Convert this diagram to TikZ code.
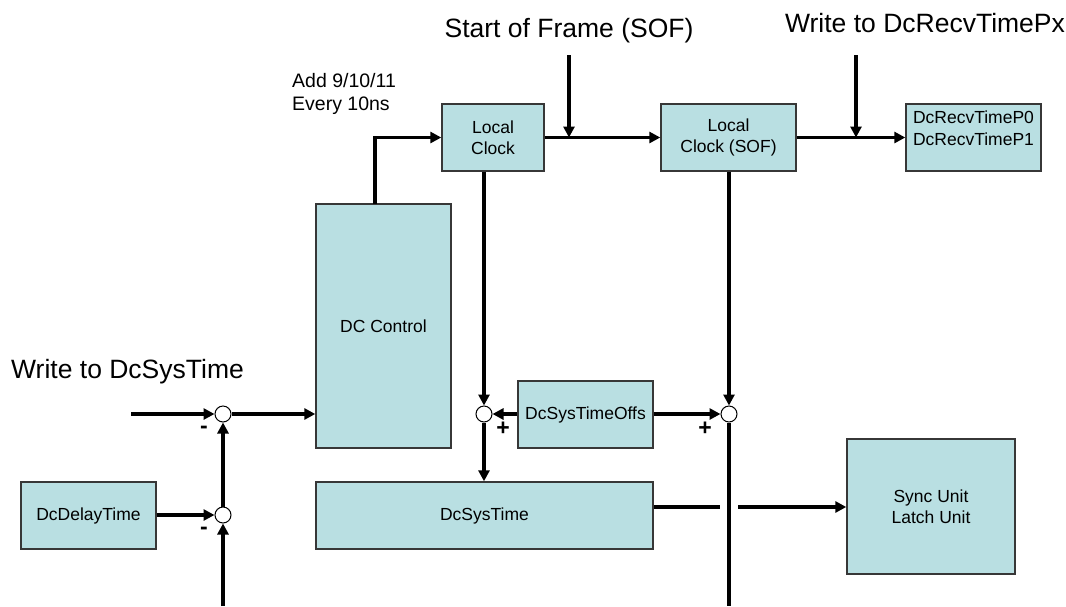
\documentclass[tikz,border=0pt]{standalone}
\usepackage{fontspec}
\setmainfont{Liberation Sans}
\usetikzlibrary{arrows.meta,calc}
\definecolor{boxfill}{RGB}{185,223,226}
\definecolor{boxline}{RGB}{55,55,55}
\tikzset{
  blk/.style={draw=boxline, fill=boxfill, line width=1.4pt, inner sep=0pt, align=center,
              font=\fontsize{17.5}{21}\selectfont},
  sumpt/.style={circle, draw=black, fill=white, line width=1pt, minimum size=16pt, inner sep=0pt},
  flow/.style={line width=3.3pt, -{Triangle[length=11pt,width=11pt]}},
  wire/.style={line width=3.3pt},
  biglbl/.style={font=\fontsize{26.5}{30}\selectfont, inner sep=0pt},
  smalllbl/.style={font=\fontsize{19.5}{23}\selectfont, inner sep=0pt, align=left},
  sign/.style={font=\bfseries\fontsize{23}{23}\selectfont, inner sep=0pt}
}
\begin{document}
\begin{tikzpicture}[x=1pt,y=-1pt]
\useasboundingbox (0,0) rectangle (1066,606);

% blocks
\node[blk, minimum width=102pt, minimum height=67pt] (lc) at (493,137.5) {Local\\Clock};
\node[blk, minimum width=135pt, minimum height=67pt] (lcs) at (728.5,137.5) {Local\\Clock (SOF)};
\node[blk, minimum width=135pt, minimum height=67pt] (recv) at (973.5,137.5) {};
\node[anchor=north, inner sep=0pt, align=center, font=\fontsize{17.5}{22}\selectfont] (recvtxt) at (973.5,110.5) {DcRecvTimeP0\\DcRecvTimeP1};
\node[blk, minimum width=135pt, minimum height=244pt] (dcc) at (383.5,326) {DC Control};
\node[blk, minimum width=135pt, minimum height=67pt] (offs) at (585.5,414.5) {DcSysTimeOffs};
\node[blk, minimum width=337pt, minimum height=67pt] (st) at (484.5,515.5) {DcSysTime};
\node[blk, minimum width=135pt, minimum height=67pt] (dly) at (88.5,515.5) {DcDelayTime};
\node[blk, minimum width=168pt, minimum height=135pt] (sync) at (931,506.5) {Sync Unit\\Latch Unit};

% summing points
\node[sumpt] (c1) at (223,414) {};
\node[sumpt] (c2) at (223,515) {};
\node[sumpt] (c3) at (484,414) {};
\node[sumpt] (c4) at (729,414) {};

% labels
\node[biglbl, anchor=base] (sof) at (569,37) {Start of Frame (SOF)};
\node[biglbl, anchor=base] (wrecv) at (925,32) {Write to DcRecvTimePx};
\node[biglbl, anchor=base west] (wsys) at (11,378) {Write to DcSysTime};
\node[smalllbl, anchor=north west] (add) at (292,73) {Add 9/10/11\\Every 10ns};

\node[sign] (m1) at (204,430) {-};
\node[sign] (m2) at (204,531) {-};
\node[sign] (p1) at (503,429) {+};
\node[sign] (p2) at (705,429) {+};

% coordinates
\coordinate (sysin) at (131,414);
\coordinate (dcup) at (375,204);
\coordinate (sofin) at (569,55);
\coordinate (recvin) at (856,55);
\coordinate (botL) at (223,606);
\coordinate (botR) at (729,606);
\coordinate (gapL) at (720,507);
\coordinate (gapR) at (738,507);

% connectors
\draw[flow] (sysin) -- (c1);
\draw[flow] (c1) -- (c1 -| dcc.west);
\draw[flow] (c2) -- (c1);
\draw[flow] (botL) -- (c2);
\draw[flow] (dly.east |- c2) -- (c2);
\draw[flow] (dcup) |- (lc.west);
\draw[flow] (lc.east) -- (lcs.west);
\draw[flow] (sofin) -- (sofin |- lc.east);
\draw[flow] (lcs.east) -- (recv.west);
\draw[flow] (recvin) -- (recvin |- lcs.east);
\draw[flow] (c3 |- lc.south) -- (c3);
\draw[flow] (offs.west |- c3) -- (c3);
\draw[flow] (c3) -- (c3 |- st.north);
\draw[flow] (c4 |- lcs.south) -- (c4);
\draw[flow] (offs.east |- c4) -- (c4);
\draw[wire] (c4) -- (botR);
\draw[wire] (gapL -| st.east) -- (gapL);
\draw[flow] (gapR) -- (gapR -| sync.west);
\end{tikzpicture}
\end{document}
